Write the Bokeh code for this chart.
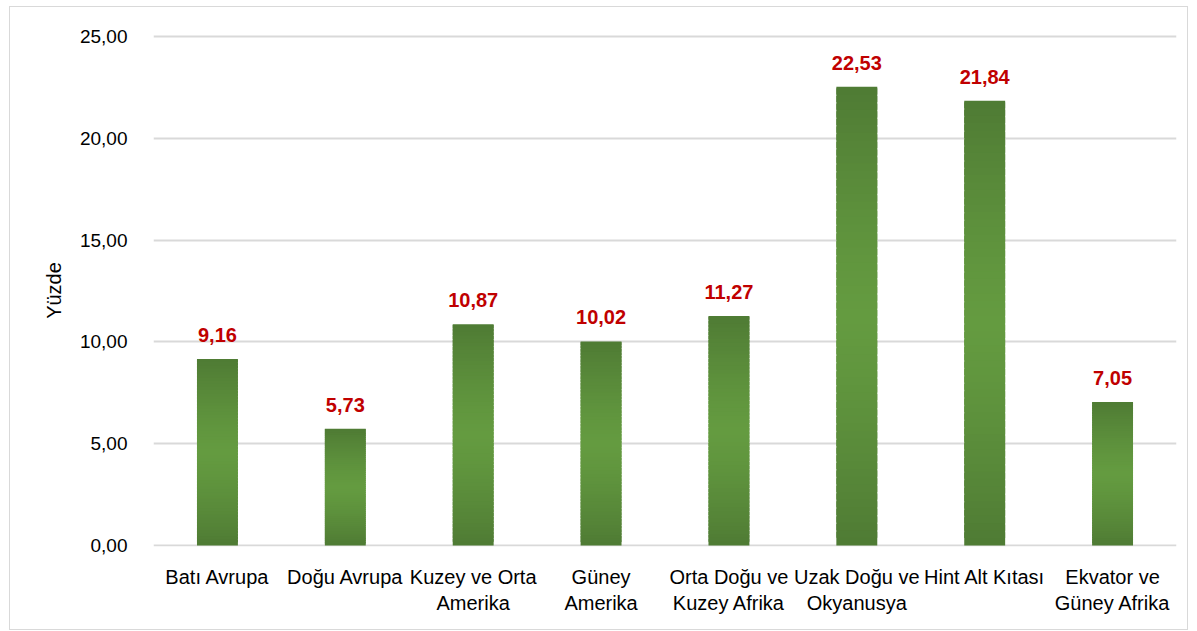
from bokeh.plotting import figure
from bokeh.models import ColumnDataSource, FixedTicker, Range1d
from bokeh.core.properties import value
from bokeh.embed import file_html
from bokeh.resources import INLINE

categories = ["Batı Avrupa", "Doğu Avrupa", "Kuzey ve Orta\nAmerika", "Güney\nAmerika",
              "Orta Doğu ve\nKuzey Afrika", "Uzak Doğu ve\nOkyanusya", "Hint Alt Kıtası",
              "Ekvator ve\nGüney Afrika"]
values = [9.16, 5.73, 10.87, 10.02, 11.27, 22.53, 21.84, 7.05]
labels = ["9,16", "5,73", "10,87", "10,02", "11,27", "22,53", "21,84", "7,05"]
y_ticks = [0, 5, 10, 15, 20, 25]
y_tick_labels = ["0,00", "5,00", "10,00", "15,00", "20,00", "25,00"]

FONT = "Liberation Sans"
dark = (79, 123, 52)
light = (100, 155, 64)
N = 60

p = figure(x_range=categories, y_range=Range1d(-0.05, 25.1), width=1179, height=624,
           output_backend="svg", toolbar_location=None,
           min_border_left=143, min_border_right=13, min_border_top=27, min_border_bottom=85)
p.styles = {"border": "1px solid #d9d9d9", "box-sizing": "border-box",
            "margin-left": "9px", "margin-top": "6px"}
p.outline_line_color = None
p.background_fill_color = "white"

# gradient bars: overlapping strips per bar
xs, bots, tops, cols = [], [], [], []
for c, v in zip(categories, values):
    for i in range(N):
        t = (i + 0.5) / N
        k = abs(t - 0.5) * 2
        k = k ** 1.3
        col = tuple(int(round(light[j] + (dark[j] - light[j]) * k)) for j in range(3))
        xs.append(c)
        bots.append(v * i / N)
        tops.append(v * min(i + 1.8, N) / N)
        cols.append("#%02x%02x%02x" % col)
src = ColumnDataSource(dict(x=xs, bottom=bots, top=tops, color=cols))
p.vbar(x="x", bottom="bottom", top="top", width=0.32, fill_color="color", line_color=None,
       source=src)

lsrc = ColumnDataSource(dict(x=categories, y=values, t=labels))
p.text(x="x", y="y", text="t", source=lsrc, text_align="center", text_baseline="bottom",
       y_offset=-17, text_color="#C00000", text_font=value(FONT), text_font_style="bold",
       text_font_size="20px")

p.yaxis.ticker = FixedTicker(ticks=y_ticks)
p.yaxis.major_label_overrides = {t: l for t, l in zip(y_ticks, y_tick_labels)}
p.yaxis.axis_line_color = None
p.yaxis.major_tick_line_color = None
p.yaxis.minor_tick_line_color = None
p.yaxis.major_label_standoff = 20
p.yaxis.major_label_text_font = FONT
p.yaxis.major_label_text_font_size = "19px"
p.yaxis.major_label_text_color = "#000000"
p.yaxis.axis_label = "Yüzde"
p.yaxis.axis_label_text_font = FONT
p.yaxis.axis_label_text_font_size = "20px"
p.yaxis.axis_label_text_font_style = "normal"
p.yaxis.axis_label_text_color = "#000000"
p.yaxis.axis_label_standoff = 12

p.xaxis.axis_line_color = None
p.xaxis.major_tick_line_color = None
p.xaxis.minor_tick_line_color = None
p.xaxis.major_label_standoff = 13
p.xaxis.major_label_text_font = FONT
p.xaxis.major_label_text_font_size = "20px"
p.xaxis.major_label_text_color = "#000000"

p.xgrid.grid_line_color = None
p.ygrid.grid_line_color = "#d9d9d9"
p.ygrid.grid_line_width = 2

open("out.html", "w").write(file_html(p, INLINE))
